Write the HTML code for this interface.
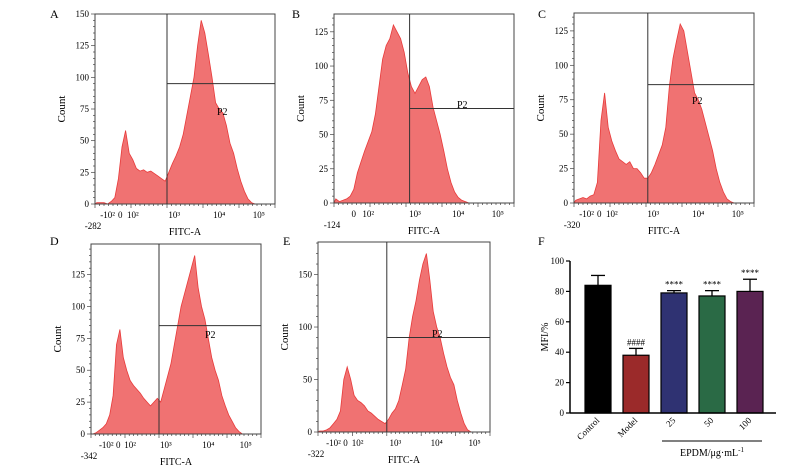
<!DOCTYPE html>
<html><head><meta charset="utf-8"><style>
body{margin:0;background:#fff}
svg{display:block;font-family:"Liberation Serif",serif}
</style></head><body>
<svg id="c" width="803" height="467" viewBox="0 0 803 467" xmlns="http://www.w3.org/2000/svg"></svg>
<script>
// Histogram counts, 50 bins spanning each panel's x-axis
const histA=[1,1,1,0,2,5,20,45,58,40,35,28,26,27,25,26,24,22,20,18,25,32,38,45,55,70,85,100,125,145,135,118,100,80,75,72,62,48,40,28,18,10,4,1,0,0,0,0,0,0];
const histB=[3,1,2,3,5,10,22,30,38,45,52,65,85,105,115,120,130,125,120,110,95,85,80,85,90,92,85,70,60,50,38,25,15,8,4,2,1,0,0,0,0,0,0,0,0,0,0,0,0,0];
const histC=[2,3,4,3,5,6,15,60,80,55,45,38,32,30,28,30,25,25,22,18,18,22,28,35,42,55,85,105,118,130,125,110,95,80,75,68,58,48,38,25,15,8,3,1,0,0,0,0,0,0];
const histD=[0,1,3,5,8,15,30,70,82,60,50,42,38,35,32,28,25,22,25,28,25,35,45,55,70,85,100,110,120,130,140,115,100,90,75,60,50,42,30,22,15,10,5,2,0,0,0,0,0,0];
const histE=[1,1,2,4,8,12,20,50,62,50,35,30,28,25,20,18,15,12,10,8,12,18,22,30,45,60,90,110,125,145,160,170,145,115,100,90,75,62,52,45,30,18,8,2,0,0,0,0,0,0];
const gateX=[0.4,0.42,0.41,0.4,0.4];
const gateY=[95,69,86,85,90];
const yMaxes=[150,138,138,149,181];
const yTicksA=[0,25,50,75,100,125,150];
const yTicksB=[0,25,50,75,100,125];
const yTicksE=[0,50,100,150];
const minLabels=["-282","-124","-320","-342","-322"];
// Bar chart data
const barCats=["Control","Model","25","50","100"];
const barVals=[84,38,79,77,80];
const barErr=[6.5,4.5,1.5,3.5,8];
const barMarks=["","####","****","****","****"];
const barTicks=[0,20,40,60,80,100];

const NS="http://www.w3.org/2000/svg",svg=document.getElementById('c');
function el(t,a,p){const e=document.createElementNS(NS,t);for(const k in a)e.setAttribute(k,a[k]);(p||svg).appendChild(e);return e;}
function txt(s,a,p){const e=el('text',a,p);e.textContent=s;return e;}

const panels=[
 {L:"A",x:95,y:14,w:180,h:190,d:histA,t:yTicksA,lx:50,ly:18,xl:[["-10²",0.07],["0",0.14],["10²",0.21],["10³",0.44],["10⁴",0.69],["10⁵",0.91]],px:217,py:115},
 {L:"B",x:334,y:14,w:180,h:189,d:histB,t:yTicksB,lx:292,ly:18,xl:[["0",0.11],["10²",0.19],["10³",0.45],["10⁴",0.69],["10⁵",0.91]],px:457,py:108},
 {L:"C",x:574,y:13,w:180,h:190,d:histC,t:yTicksB,lx:538,ly:18,xl:[["-10²",0.07],["0",0.14],["10²",0.21],["10³",0.44],["10⁴",0.69],["10⁵",0.91]],px:692,py:104},
 {L:"D",x:91,y:244,w:170,h:190,d:histD,t:yTicksB,lx:50,ly:245,xl:[["-10²",0.09],["0",0.16],["10²",0.23],["10³",0.44],["10⁴",0.69],["10⁵",0.91]],px:205,py:338},
 {L:"E",x:318,y:242,w:172,h:190,d:histE,t:yTicksE,lx:283,ly:245,xl:[["-10²",0.09],["0",0.16],["10²",0.23],["10³",0.45],["10⁴",0.69],["10⁵",0.91]],px:432,py:337}
];
panels.forEach((P,i)=>{
 const g=el('g',{});
 
 
 const ym=yMaxes[i];
 const sx=f=>P.x+f*P.w, sy=v=>P.y+P.h-v/ym*P.h;
 const n=P.d.length;
 let dpath="M"+sx(0)+","+sy(0);
 P.d.forEach((v,k)=>{dpath+=" L"+sx((k+0.5)/n).toFixed(1)+","+sy(v).toFixed(1);});
 dpath+=" L"+sx(1)+","+sy(0)+"Z";
 const h=el('path',{d:dpath,fill:'#f07272',stroke:'#e83a3a','stroke-width':0.8},g);
 
 
 const b=el('rect',{x:P.x,y:P.y,width:P.w,height:P.h,fill:'none',stroke:'#444','stroke-width':1},g);
 
 
 const gx=sx(gateX[i]);
 const v=el('line',{x1:gx,x2:gx,y1:P.y,y2:P.y+P.h,stroke:'#333','stroke-width':1},g);
 
 
 const hz=el('line',{x1:gx,x2:P.x+P.w,y1:sy(gateY[i]),y2:sy(gateY[i]),stroke:'#333','stroke-width':1},g);
 
 
 const p2=txt("P2",{x:P.px,y:P.py,'font-size':10},g);
 
 
 const step=P.t[1]-P.t[0], minor=step/5;
 for(let vv=0;vv<=ym;vv+=minor){el('line',{x1:P.x-(vv%step===0?4:2),x2:P.x,y1:sy(vv),y2:sy(vv),stroke:'#444','stroke-width':0.7},g);}
 P.t.forEach(t=>{const tl=txt(String(t),{x:P.x-6,y:sy(t)+3,'font-size':9,'text-anchor':'end'},g);
  
  });
 for(let k=0;k<=40;k++){el('line',{x1:P.x+k*P.w/40,x2:P.x+k*P.w/40,y1:P.y+P.h,y2:P.y+P.h+(k%8===0?4:2),stroke:'#444','stroke-width':0.7},g);}
 P.xl.forEach(([s,f])=>{const tl=txt(s,{x:sx(f),y:P.y+P.h+14,'font-size':9,'text-anchor':'middle'},g);
  
  });
 const ml=txt(minLabels[i],{x:P.x-2,y:P.y+P.h+25,'font-size':9,'text-anchor':'middle'},g);
 
 
 const xt=txt("FITC-A",{x:P.x+P.w/2,y:P.y+P.h+31,'font-size':10,'text-anchor':'middle'},g);
 
 
 const yc=P.y+P.h/2, yx=P.x-30;
 const yt=txt("Count",{x:yx,y:yc,'font-size':11,'text-anchor':'middle',transform:`rotate(-90 ${yx} ${yc})`},g);
 
 
 const pl=txt(P.L,{x:P.lx,y:P.ly,'font-size':12},g);
 
 
});

// Bar chart F
const F={x0:570,y0:413,y100:261,right:776};
const fy=v=>F.y0-(v/100)*(F.y0-F.y100);
const bx=i=>585+i*38;
const colors=["#000000","#9b2a2a","#2f3272","#2a6a45","#5a2352"];
const gF=el('g',{});


const fl=txt("F",{x:538,y:245,'font-size':12},gF);


barVals.forEach((v,i)=>{
 const x=bx(i),w=26,top=fy(v),et=fy(v+barErr[i]);
 const ln=el('line',{x1:x+w/2,x2:x+w/2,y1:top,y2:et,stroke:'#000','stroke-width':1.3},gF);
 
 
 el('line',{x1:x+w/2-7,x2:x+w/2+7,y1:et,y2:et,stroke:'#000','stroke-width':1.3},gF);
 const r=el('rect',{x:x,y:top,width:w,height:F.y0-top,fill:colors[i],stroke:'#000','stroke-width':1.2},gF);
 
 
 if(barMarks[i]){const m=txt(barMarks[i],{x:x+w/2,y:et-3,'font-size':9,'text-anchor':'middle'},gF);
  
  }
 const cx=x+w/2+2, cy=F.y0+8;
 const cl=txt(barCats[i],{x:cx,y:cy,'font-size':9,'text-anchor':'end',transform:`rotate(-45 ${cx} ${cy})`},gF);
 
 
});
el('line',{x1:F.x0,x2:F.x0,y1:F.y100,y2:F.y0,stroke:'#000','stroke-width':1.5},gF);
el('line',{x1:F.x0,x2:F.right,y1:F.y0,y2:F.y0,stroke:'#000','stroke-width':1.5},gF);
barTicks.forEach(t=>{el('line',{x1:F.x0-4,x2:F.x0,y1:fy(t),y2:fy(t),stroke:'#000','stroke-width':1.2},gF);
 const tl=txt(String(t),{x:F.x0-6,y:fy(t)+3,'font-size':9,'text-anchor':'end'},gF);
 
 });
const mx=548,my=337;
const mt=txt("MFI/%",{x:mx,y:my,'font-size':10,'text-anchor':'middle',transform:`rotate(-90 ${mx} ${my})`},gF);


const gl=el('line',{x1:662,x2:762,y1:441,y2:441,stroke:'#000','stroke-width':1},gF);


const gt=el('text',{x:712,y:456,'font-size':10,'text-anchor':'middle'},gF);
gt.innerHTML='EPDM/μg·mL<tspan font-size="7" dy="-4">-1</tspan>';


</script>
</body></html>
